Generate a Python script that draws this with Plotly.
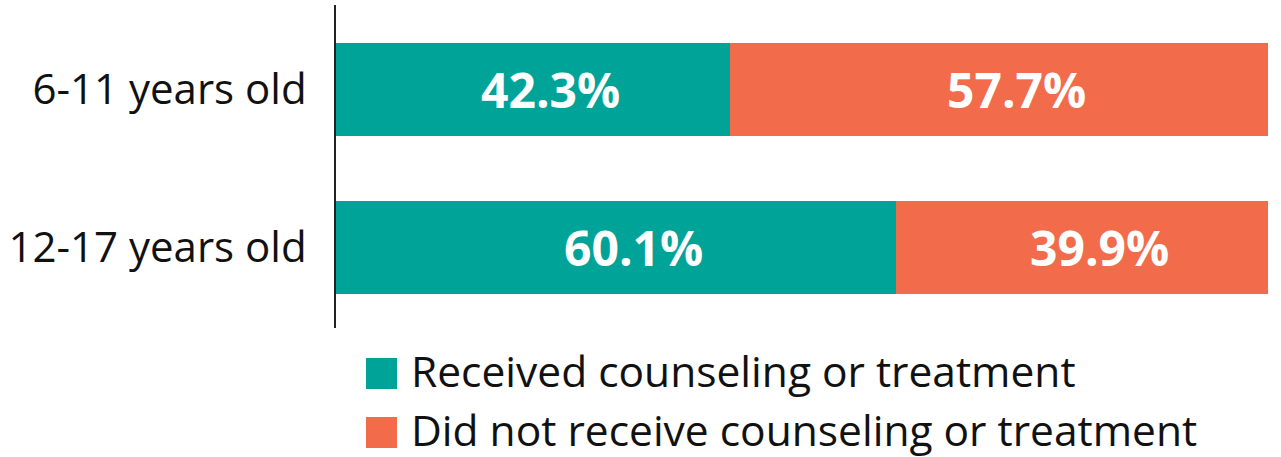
import plotly.graph_objects as go

# Data
age_groups = ["6-11 years old", "12-17 years old"]
received = [42.3, 60.1]
not_received = [57.7, 39.9]
series_names = ["Received counseling or treatment",
                "Did not receive counseling or treatment"]
series_colors = ["#00A398", "#F26B4B"]

# Canvas and margins (pixels)
W, H = 1281, 457
L, R, T, B = 336, 13, 5, 129
plot_w = W - L - R
plot_h = H - T - B

FONT = "Open Sans"


def paper_x(px):
    return (px - L) / plot_w


def paper_y(py):
    return (H - B - py) / plot_h


fig = go.Figure()
for name, vals, color in zip(series_names, [received, not_received], series_colors):
    fig.add_trace(go.Bar(
        y=age_groups, x=vals, name=name, orientation="h",
        marker=dict(color=color, line=dict(width=0)),
        width=0.59, showlegend=False,
        hovertemplate="%{y}: %{x:.1f}%<extra>" + name + "</extra>",
    ))

# Value labels centred on each segment
annotations = []
for vals, starts in [(received, [0, 0]), (not_received, received)]:
    for cat, v, s in zip(age_groups, vals, starts):
        annotations.append(dict(
            x=s + v / 2, y=cat, xref="x", yref="y",
            text=f"{v:.1f}%", showarrow=False, xshift=17,
            font=dict(family=FONT, size=48, color="white", weight="bold"),
            xanchor="center", yanchor="middle",
        ))

# Custom legend below the plot
legend_rows = [(358, 389), (417, 448)]
shapes = []
for (top, bot), name, color in zip(legend_rows, series_names, series_colors):
    shapes.append(dict(
        type="rect", xref="paper", yref="paper",
        x0=paper_x(366), x1=paper_x(397), y0=paper_y(bot), y1=paper_y(top),
        fillcolor=color, line=dict(width=0), layer="above",
    ))
    annotations.append(dict(
        x=paper_x(410), y=paper_y((top + bot) / 2 - 3.5), xref="paper", yref="paper",
        text=name, showarrow=False, xanchor="left", yanchor="middle",
        borderpad=0,
        font=dict(family=FONT, size=42.5, color="#111111"),
    ))

fig.update_layout(
    barmode="stack",
    width=W, height=H,
    margin=dict(l=L, r=R, t=T, b=B, pad=0),
    paper_bgcolor="white", plot_bgcolor="white",
    xaxis=dict(visible=False, range=[0, 100], fixedrange=True),
    yaxis=dict(
        categoryorder="array", categoryarray=age_groups,
        range=[1.514, -0.537],
        showline=True, linecolor="#222222", linewidth=2,
        showgrid=False, zeroline=False, ticks="",
        ticklabelstandoff=19,
        tickfont=dict(family=FONT, size=42, color="#111111"),
        fixedrange=True,
    ),
    annotations=annotations,
    shapes=shapes,
)

fig.write_html("out.html")
